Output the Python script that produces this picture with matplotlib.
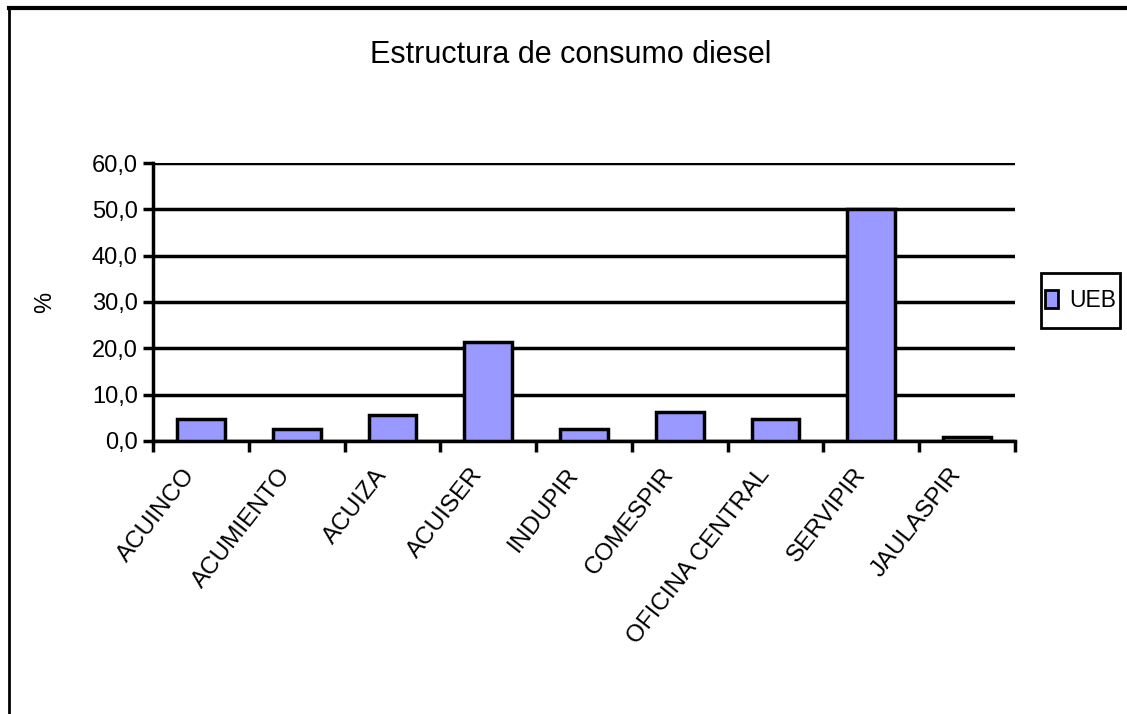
import matplotlib
matplotlib.use("Agg")
import matplotlib.pyplot as plt
import matplotlib.transforms as mtransforms
import numpy as np
from matplotlib.lines import Line2D
from matplotlib.patches import Patch, Rectangle

plt.rcParams["font.family"] = ["Liberation Sans", "DejaVu Sans"]

categories = ["ACUINCO", "ACUMIENTO", "ACUIZA", "ACUISER", "INDUPIR",
              "COMESPIR", "OFICINA CENTRAL", "SERVIPIR", "JAULASPIR"]
values = [4.7, 2.6, 5.5, 21.4, 2.6, 6.3, 4.7, 50.0, 0.9]
yticks = [0, 10, 20, 30, 40, 50, 60]
ytick_labels = ["0,0", "10,0", "20,0", "30,0", "40,0", "50,0", "60,0"]

fig = plt.figure(figsize=(11.27, 7.14), dpi=100)
ax = fig.add_axes([0.1358, 0.3824, 0.7648, 0.3893])

x = np.arange(len(categories))
bar_color = "#9999ff"
ax.bar(x, values, width=0.5, color=bar_color, edgecolor="black", linewidth=2.5, zorder=3)

ax.set_xlim(-0.5, len(categories) - 0.5)
ax.set_ylim(0, 60)
ax.set_yticks(yticks)
ax.set_yticklabels(ytick_labels, fontsize=17)

# ticks at category boundaries
ax.set_xticks(np.arange(len(categories) + 1) - 0.5)
ax.set_xticklabels([])
ax.tick_params(axis="x", length=8, width=2.5, direction="out")
ax.tick_params(axis="y", length=7, width=2.5, direction="out", pad=4)

# rotated category labels, right end just left of the category centre
trans = ax.get_xaxis_transform() + mtransforms.ScaledTranslation(-10 / 100, -30 / 100, fig.dpi_scale_trans)
for xi, name in zip(x, categories):
    ax.text(xi, 0, name, transform=trans, rotation=52, rotation_mode="anchor",
            ha="right", va="center", fontsize=17.5)

ax.yaxis.grid(True, color="black", linewidth=2.5, zorder=0)
ax.set_axisbelow(True)
for side in ["top", "right"]:
    ax.spines[side].set_visible(False)
ax.spines["left"].set_linewidth(2.5)
ax.spines["bottom"].set_linewidth(2.5)

ax.set_ylabel("%", fontsize=17, labelpad=26)

fig.text(0.506, 0.923, "Estructura de consumo diesel", ha="center", va="center", fontsize=22)

# legend: entries without frame, frame drawn as its own box
handles = [Patch(facecolor=bar_color, edgecolor="black", linewidth=2)]
leg = fig.legend(handles, ["UEB"], loc="center",
                 bbox_to_anchor=(0.924, 0.5406, 0.070, 0.077),
                 fontsize=16.5, frameon=False,
                 handlelength=0.55, handleheight=0.8, handletextpad=0.5,
                 borderpad=0, borderaxespad=0)
fig.add_artist(Rectangle((0.924, 0.5406), 0.070, 0.077, transform=fig.transFigure,
                         facecolor="none", edgecolor="black", linewidth=2))

# outer chart border (top and left visible)
fig.add_artist(Line2D([0.008, 1.0], [0.989, 0.989], color="black", linewidth=3,
                      transform=fig.transFigure))
fig.add_artist(Line2D([0.008, 0.008], [0.0, 0.989], color="black", linewidth=2,
                      transform=fig.transFigure))

fig.savefig("out.png", dpi=100)
